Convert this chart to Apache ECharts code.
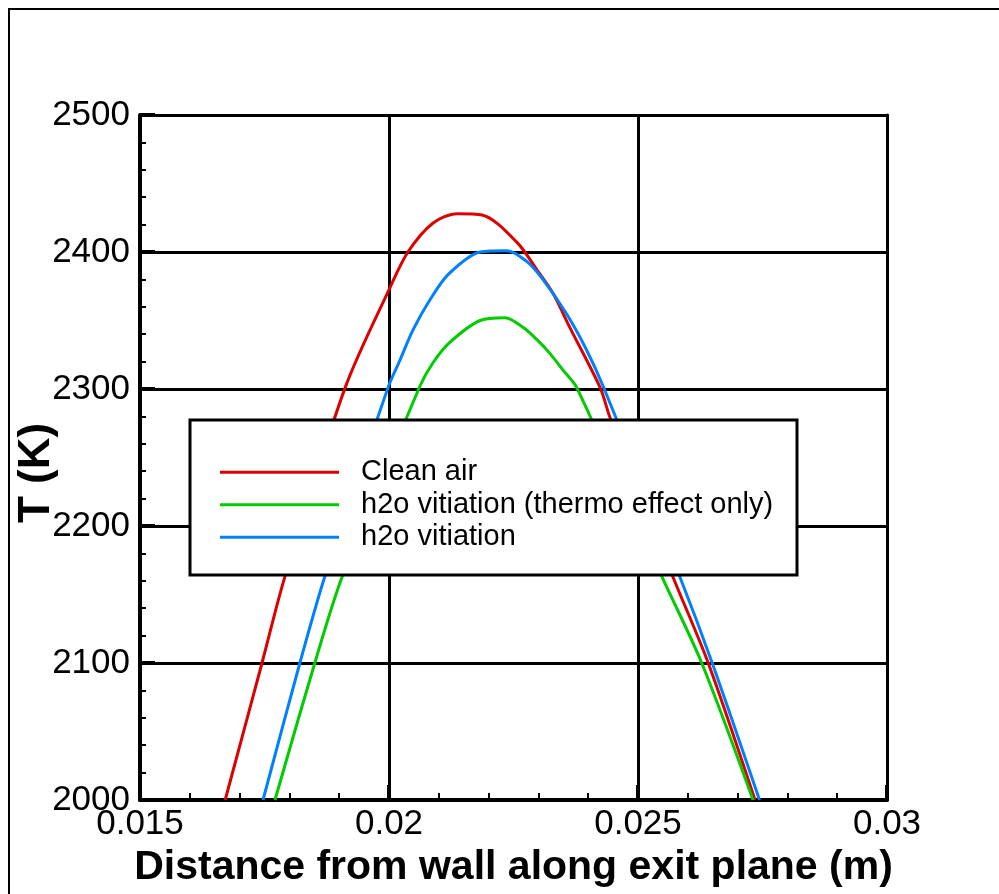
<!DOCTYPE html>
<html>
<head>
<meta charset="utf-8">
<title>Exit plane temperature</title>
<script src="https://cdn.jsdelivr.net/npm/echarts@6/dist/echarts.min.js"></script>
<style>
  html, body { margin: 0; padding: 0; background: #fff; }
  #chart { width: 999px; height: 894px; }
</style>
</head>
<body>
<div id="chart"></div>
<script>
// Temperature profiles along the exit plane, [distance from wall (m), T (K)]
const cleanAir = [
  [0.01671, 2000], [0.01745, 2100], [0.01791, 2163], [0.01912, 2301],
  [0.02002, 2374], [0.02038, 2400], [0.02088, 2421], [0.02137, 2428],
  [0.02187, 2427], [0.02257, 2407], [0.02297, 2387], [0.02329, 2370],
  [0.02363, 2345], [0.02424, 2301], [0.02444, 2279], [0.02570, 2163],
  [0.02641, 2100], [0.02735, 2000]
];
const h2oThermoOnly = [
  [0.01771, 2000], [0.01851, 2100], [0.01906, 2163], [0.02062, 2302],
  [0.02088, 2319], [0.02122, 2334], [0.02183, 2350], [0.02233, 2352],
  [0.02269, 2345], [0.02297, 2336], [0.02323, 2326], [0.02349, 2314],
  [0.02377, 2301], [0.02548, 2163], [0.02628, 2100], [0.02731, 2000]
];
const h2oVitiation = [
  [0.01747, 2000], [0.01821, 2100], [0.01871, 2163], [0.01998, 2301],
  [0.02022, 2321], [0.02048, 2343], [0.02082, 2365], [0.02120, 2384],
  [0.02183, 2400], [0.02237, 2401], [0.02277, 2393], [0.02309, 2380],
  [0.02358, 2354], [0.02396, 2329], [0.02430, 2302], [0.02584, 2163],
  [0.02649, 2100], [0.02744, 2000]
];
const seriesNames = ['Clean air', 'h2o vitiation (thermo effect only)', 'h2o vitiation'];
const xTickLabels = ['0.015', '0.02', '0.025', '0.03'];
const yTickLabels = ['2000', '2100', '2200', '2300', '2400', '2500'];

const FONT = '"Liberation Sans", Arial, Helvetica, sans-serif';
const colors = ['#dd0000', '#00cc00', '#0080ff'];

function pickLabel(list, v) {
  const hit = list.find(s => Math.abs(parseFloat(s) - v) < 1e-7);
  return hit === undefined ? '' : hit;
}

const chart = echarts.init(document.getElementById('chart'), null, { renderer: 'canvas' });

const lineSeries = (name, data, color) => ({
  name, type: 'line', data,
  smooth: 0.3, showSymbol: false, symbol: 'none',
  lineStyle: { color, width: 3 }, itemStyle: { color },
  clip: true, z: 2
});

chart.setOption({
  animation: false,
  backgroundColor: '#fff',
  grid: { left: 140, right: 112, top: 115, bottom: 94, containLabel: false },
  xAxis: [{
    type: 'value', min: 0.015, max: 0.03, interval: 0.005,
    name: 'Distance from wall along exit plane (m)',
    nameLocation: 'middle', nameGap: 41,
    nameTextStyle: { fontFamily: FONT, fontWeight: 'bold', fontSize: 41, color: '#000' },
    axisLine: { show: true, onZero: false, lineStyle: { color: '#000', width: 4 } },
    axisTick: { show: true, inside: true, length: 15, lineStyle: { color: '#000', width: 4 } },
    minorTick: { show: true, splitNumber: 5, length: 7, lineStyle: { color: '#000', width: 2 } },
    axisLabel: {
      margin: 7, fontFamily: FONT, fontSize: 35, color: '#000',
      formatter: v => pickLabel(xTickLabels, v)
    },
    splitLine: { show: true, lineStyle: { color: '#000', width: 3 } }
  }, {
    type: 'value', position: 'top', min: 0.015, max: 0.03, interval: 0.005,
    axisLine: { show: true, onZero: false, lineStyle: { color: '#000', width: 3 } },
    axisTick: { show: false }, axisLabel: { show: false }, splitLine: { show: false }
  }],
  yAxis: [{
    type: 'value', min: 2000, max: 2500, interval: 100,
    axisLine: { show: true, onZero: false, lineStyle: { color: '#000', width: 4 } },
    axisTick: { show: true, inside: true, length: 15, lineStyle: { color: '#000', width: 4 } },
    minorTick: { show: true, splitNumber: 5, length: 6, lineStyle: { color: '#000', width: 2 } },
    axisLabel: {
      margin: 10, fontFamily: FONT, fontSize: 35, color: '#000',
      formatter: v => pickLabel(yTickLabels, v)
    },
    splitLine: { show: true, lineStyle: { color: '#000', width: 3 } }
  }, {
    type: 'value', position: 'right', min: 2000, max: 2500, interval: 100,
    axisLine: { show: true, onZero: false, lineStyle: { color: '#000', width: 3 } },
    axisTick: { show: false }, axisLabel: { show: false }, splitLine: { show: false }
  }],
  legend: {
    orient: 'vertical', left: 220, top: 456,
    itemWidth: 119, itemHeight: 12, itemGap: 0,
    padding: 0,
    data: seriesNames.map((n, i) => ({
      name: n, icon: 'path://M0,0 L119,0 L119,3 L0,3 Z',
      itemStyle: { color: colors[i] }
    })),
    textStyle: {
      fontFamily: FONT, fontSize: 29, color: '#000',
      lineHeight: 32.5, padding: [0, 0, 0, 17]
    },
    selectedMode: false, z: 5
  },
  graphic: [
    // outer frame
    { type: 'rect', shape: { x: 9, y: 9, width: 1100, height: 1000 },
      style: { fill: 'none', stroke: '#000', lineWidth: 2 }, z: 1, silent: true },
    // legend box
    { type: 'rect', shape: { x: 190, y: 420, width: 607, height: 155 },
      style: { fill: '#fff', stroke: '#000', lineWidth: 3 }, z: 3, silent: true },
    // y axis title
    { type: 'text', x: 37, y: 473, rotation: Math.PI / 2,
      style: { text: 'T (K)', fontFamily: FONT, fontWeight: 'bold', fontSize: 44,
               fill: '#000', align: 'center', verticalAlign: 'middle' }, z: 5, silent: true }
  ],
  series: [
    lineSeries(seriesNames[0], cleanAir, colors[0]),
    lineSeries(seriesNames[1], h2oThermoOnly, colors[1]),
    lineSeries(seriesNames[2], h2oVitiation, colors[2])
  ]
});
</script>
</body>
</html>
